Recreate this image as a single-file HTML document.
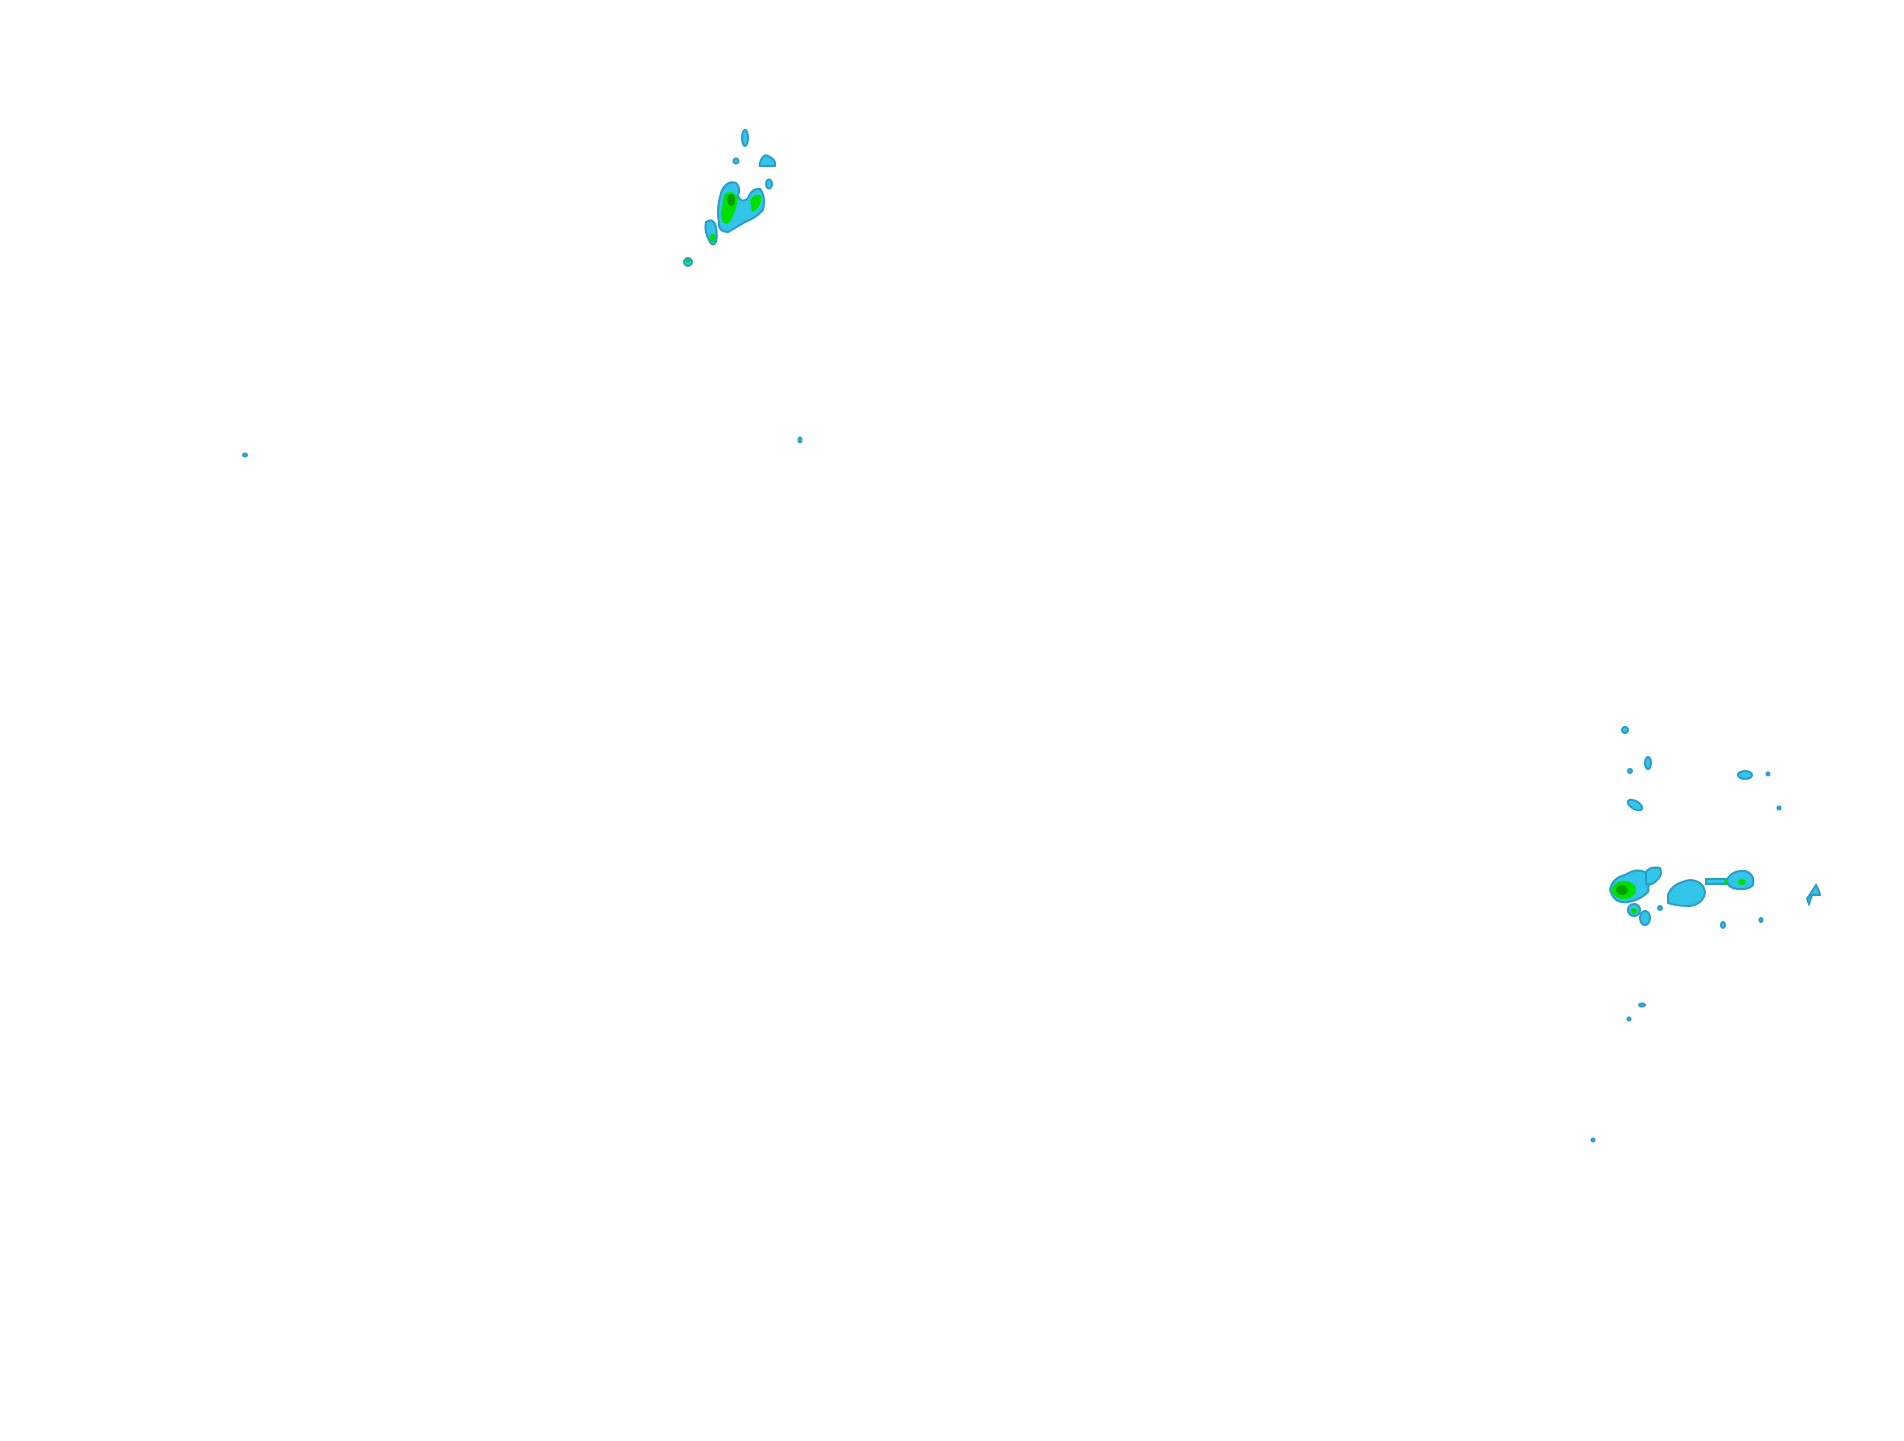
<!DOCTYPE html>
<html><head><style>html,body{margin:0;padding:0;background:#fff;}svg{display:block}</style></head>
<body>
<svg width="1904" height="1441" viewBox="0 0 1904 1441" xmlns="http://www.w3.org/2000/svg">
<g fill="#33c4ea" stroke="#2a9dc4" stroke-width="2">
<!-- top cluster -->
<ellipse cx="745" cy="138" rx="3" ry="8"/>
<ellipse cx="736" cy="161" rx="2.5" ry="2.5"/>
<path d="M760 163 Q763 152 770 157 Q776 160 775 166 L760 166 Z"/>
<ellipse cx="769" cy="184" rx="3" ry="4.5"/>
<path d="M722 190 Q728 180 736 183 Q741 188 738 196 Q742 204 748 198 Q752 188 760 189 Q766 196 763 210 Q756 218 745 222 Q735 228 728 232 Q718 232 719 222 Q716 208 722 190 Z"/>
<path d="M706 222 Q712 218 715 224 Q718 232 716 242 Q713 247 710 242 Q704 232 706 222 Z"/>
<ellipse cx="688" cy="262" rx="4" ry="4"/>
<ellipse cx="245" cy="455" rx="2" ry="1.5"/>
<ellipse cx="800" cy="440" rx="1.5" ry="2.5"/>
<!-- bottom right -->
<path d="M1610 890 Q1612 878 1625 875 Q1636 868 1645 872 Q1650 882 1648 892 Q1640 900 1628 902 Q1614 904 1610 890 Z"/>
<path d="M1646 872 Q1650 866 1660 868 Q1663 875 1657 880 Q1652 886 1646 884 Z"/>
<ellipse cx="1634" cy="910" rx="6" ry="6"/>
<ellipse cx="1645" cy="918" rx="5" ry="7"/>
<ellipse cx="1660" cy="908" rx="2" ry="2"/>
<path d="M1668 895 Q1672 883 1690 880 Q1704 881 1705 893 Q1703 904 1690 906 Q1676 906 1668 903 Z"/>
<rect x="1706" y="879" width="20" height="5"/>
<path d="M1727 880 Q1732 870 1745 871 Q1755 874 1753 885 Q1748 890 1738 889 Q1727 888 1727 880 Z"/>
<path d="M1816 885 Q1819 890 1820 895 L1812 895 L1809 904 L1807 899 Z"/>
<ellipse cx="1625" cy="730" rx="3" ry="3"/>
<ellipse cx="1648" cy="763" rx="3" ry="6"/>
<ellipse cx="1630" cy="771" rx="2" ry="2"/>
<ellipse cx="1635" cy="805" rx="8" ry="4" transform="rotate(30 1635 805)"/>
<ellipse cx="1745" cy="775" rx="7" ry="4"/>
<ellipse cx="1768" cy="774" rx="1.5" ry="1.5"/>
<ellipse cx="1779" cy="808" rx="1.5" ry="1.5"/>
<ellipse cx="1642" cy="1005" rx="3" ry="1.5"/>
<ellipse cx="1629" cy="1019" rx="1.5" ry="1.5"/>
<ellipse cx="1593" cy="1140" rx="1.5" ry="1.5"/>
<ellipse cx="1723" cy="925" rx="2" ry="3"/>
<ellipse cx="1761" cy="920" rx="1.5" ry="2"/>
</g>
<g fill="#00e000">
<path d="M724 195 Q732 188 738 198 Q736 212 730 222 Q722 228 721 214 Z"/>
<path d="M750 200 Q756 192 761 196 Q762 208 752 212 Z"/>
<ellipse cx="713" cy="238" rx="3" ry="4"/>
<ellipse cx="688" cy="261" rx="2" ry="2"/>
<ellipse cx="1624" cy="890" rx="12" ry="9"/>
<ellipse cx="1634" cy="911" rx="3" ry="3"/>
<ellipse cx="1726" cy="882" rx="2" ry="2"/>
<ellipse cx="1742" cy="882" rx="4" ry="3"/>
</g>
<g fill="#00a000">
<ellipse cx="731" cy="200" rx="4" ry="6"/>
<ellipse cx="1622" cy="890" rx="6" ry="5"/>
</g>
</svg>
</body></html>
